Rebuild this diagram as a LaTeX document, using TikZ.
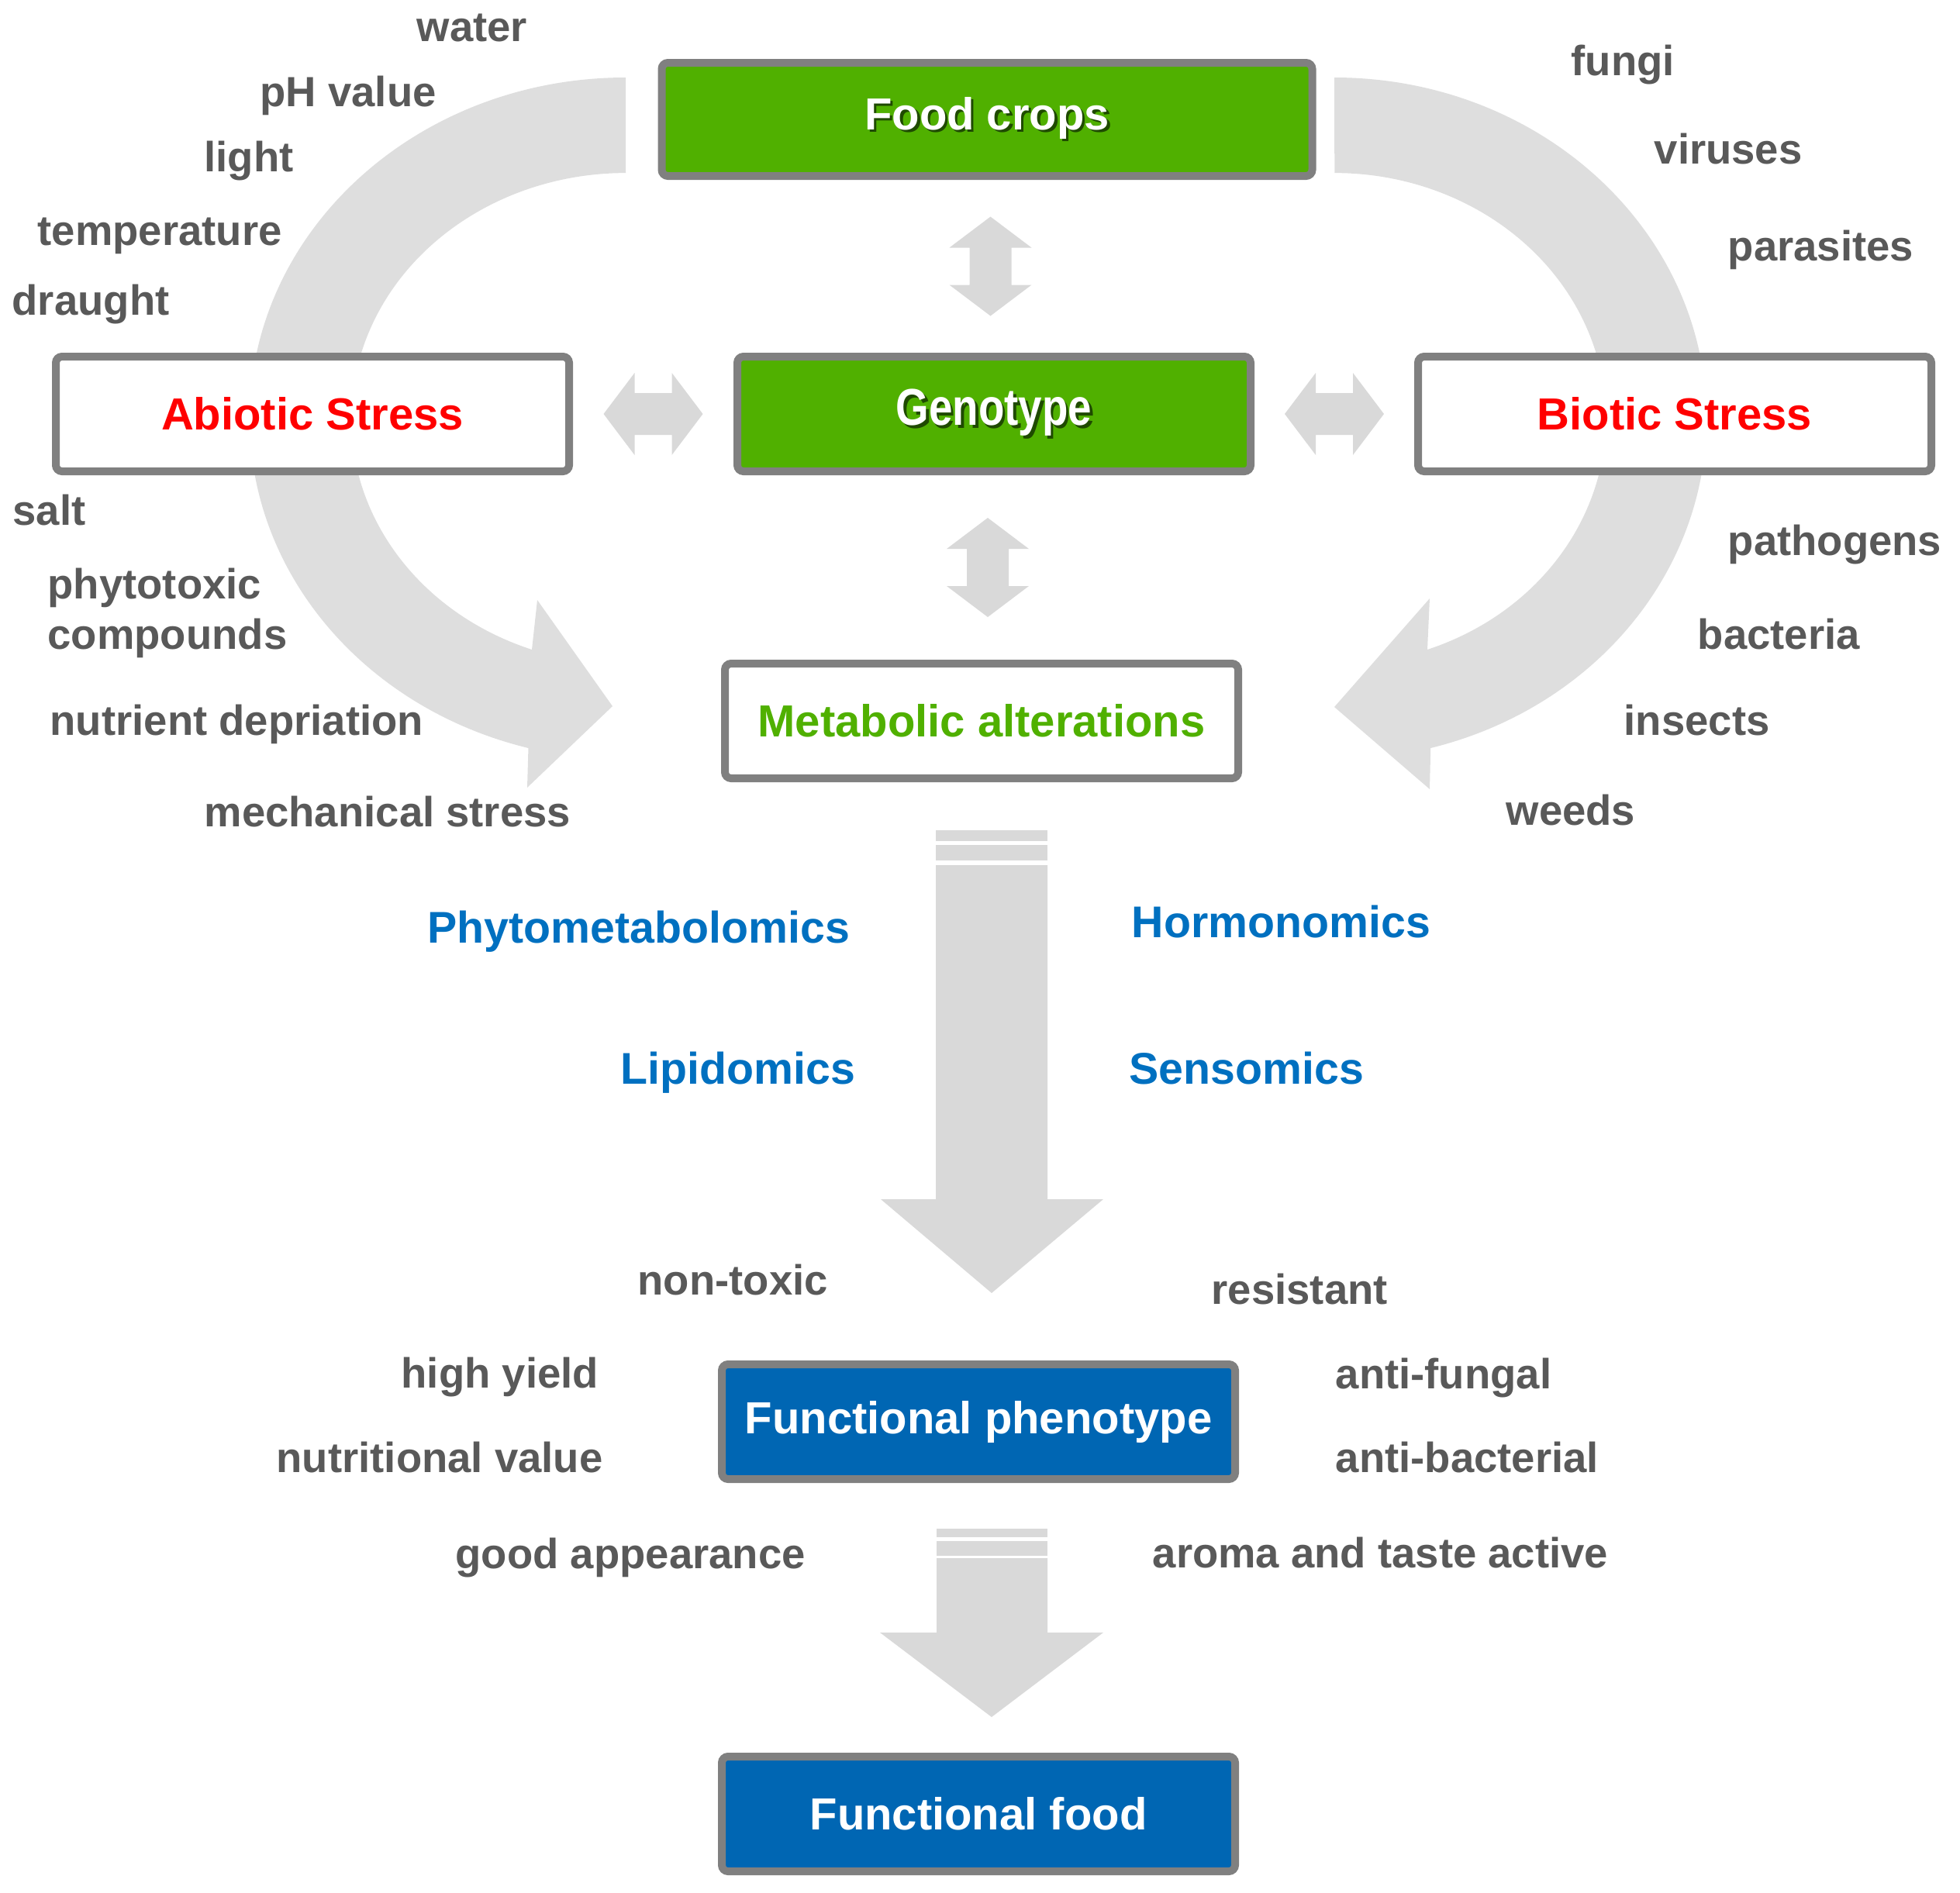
\documentclass[tikz,border=0pt]{standalone}
\usepackage{fontspec}
\setmainfont{Liberation Sans}
\newfontfamily\narrowfont[FakeStretch=0.82]{Liberation Sans}
\usepackage{tikz}
\usepackage{xcolor}
\usetikzlibrary{positioning,calc}

\definecolor{cropgreen}{HTML}{50B000}
\definecolor{shadowgreen}{HTML}{1F4A00}
\definecolor{foodblue}{HTML}{0066B3}
\definecolor{omicsblue}{HTML}{0070C0}
\definecolor{stressred}{HTML}{FF0000}
\definecolor{boxgray}{HTML}{808080}
\definecolor{labelgray}{HTML}{595959}
\definecolor{arrowgray}{HTML}{D9D9D9}
\definecolor{curvegray}{HTML}{DEDEDE}

\newcommand{\shadowed}[1]{\rlap{\kern0.035cm\raisebox{-0.035cm}{\color{shadowgreen}#1}}#1}

\tikzset{
  mainbox/.style={draw=boxgray, line width=0.1cm, rounded corners=0.08cm, fill=white,
    minimum width=6.62cm, minimum height=1.48cm, inner sep=0pt,
    font=\fontsize{16.5}{20}\selectfont\bfseries},
  factor/.style={anchor=base west, inner sep=0pt, text=labelgray,
    font=\fontsize{15.5}{18.7}\selectfont\bfseries},
  omics/.style={anchor=base west, inner sep=0pt, text=omicsblue,
    font=\fontsize{16.3}{20}\selectfont\bfseries},
  dblarrow/.pic={\fill[arrowgray] (0,0.64) -- (0.53,0.24) -- (0.27,0.24) -- (0.27,-0.24)
    -- (0.53,-0.24) -- (0,-0.64) -- (-0.53,-0.24) -- (-0.27,-0.24) -- (-0.27,0.24)
    -- (-0.53,0.24) -- cycle;}
}

\begin{document}
\begin{tikzpicture}
    \useasboundingbox (0,0) rectangle (25.28,-24.41);

    % Curved stress arrows (behind the boxes)
    \fill[curvegray] (8.07,-1.00) arc[start angle=90, end angle=255, x radius=4.85, y radius=4.40]
        -- (6.80,-10.16) -- (7.90,-9.11) -- (6.93,-7.74) -- (6.86,-8.38)
        arc[start angle=250, end angle=90, x radius=3.54, y radius=3.17] -- cycle;
    \fill[curvegray] (17.21,-1.00) arc[start angle=90, end angle=-75, x radius=4.80, y radius=4.40]
        -- (18.44,-10.18) -- (17.21,-9.12) -- (18.44,-7.72) -- (18.41,-8.38)
        arc[start angle=-70, end angle=90, x radius=3.50, y radius=3.17] -- cycle;

    % Genotype
    \node [mainbox, fill=cropgreen, text=white] (genotype) at (12.82,-5.34)
        {\narrowfont\fontsize{19}{22}\selectfont\shadowed{Genotype}};

    % Food crops
    \node [mainbox, fill=cropgreen, text=white, minimum width=8.39cm, minimum height=1.46cm,
        above=2.23cm of genotype, xshift=-0.09cm] (foodcrops) {\shadowed{Food crops}};

    % Stress boxes
    \node [mainbox, text=stressred, left=2.07cm of genotype] (abiotic) {Abiotic Stress};
    \node [mainbox, text=stressred, right=2.06cm of genotype] (biotic) {Biotic Stress};

    % Metabolic alterations
    \node [mainbox, text=cropgreen, below=2.38cm of genotype, xshift=-0.16cm] (metabolic) {Metabolic alterations};

    % Functional phenotype and food
    \node [mainbox, fill=foodblue, text=white, below=7.46cm of metabolic, xshift=-0.04cm] (phenotype) {Functional phenotype};
    \node [mainbox, fill=foodblue, text=white, below=3.48cm of phenotype] (food) {Functional food};

    % Double arrows between boxes
    \pic at ($(foodcrops.south)!0.5!(genotype.north)$) {dblarrow};
    \pic at ($(genotype.south)!0.5!(metabolic.north)$) {dblarrow};
    \pic[rotate=90] at ($(abiotic.east)!0.5!(genotype.west)$) {dblarrow};
    \pic[rotate=90] at ($(genotype.east)!0.5!(biotic.west)$) {dblarrow};

    % Big down arrow
    \fill[arrowgray] (12.07,-10.71) rectangle (13.51,-10.85);
    \fill[arrowgray] (12.07,-10.90) rectangle (13.51,-11.10);
    \fill[arrowgray] (12.07,-11.16) -- (13.51,-11.16) -- (13.51,-15.47) -- (14.23,-15.47)
        -- (12.79,-16.68) -- (11.36,-15.47) -- (12.07,-15.47) -- cycle;

    % Small down arrow
    \fill[arrowgray] (12.08,-19.72) rectangle (13.51,-19.83);
    \fill[arrowgray] (12.08,-19.88) rectangle (13.51,-20.07);
    \fill[arrowgray] (12.08,-20.10) -- (13.51,-20.10) -- (13.51,-21.06) -- (14.23,-21.06)
        -- (12.79,-22.15) -- (11.35,-21.06) -- (12.08,-21.06) -- cycle;

    % Abiotic factors
    \node [factor] (water) at (5.37,-0.53) {water};
    \node [factor] (phvalue) at (3.35,-1.37) {pH value};
    \node [factor] (light) at (2.63,-2.21) {light};
    \node [factor] (temperature) at (0.48,-3.16) {temperature};
    \node [factor] (draught) at (0.15,-4.06) {draught};
    \node [factor] (salt) at (0.16,-6.77) {salt};
    \node [factor, anchor=west, align=left] (phytotoxic) at (0.61,-7.91) {phytotoxic\\compounds};
    \node [factor] (nutrient) at (0.64,-9.48) {nutrient depriation};
    \node [factor] (mechanical) at (2.63,-10.66) {mechanical stress};

    % Biotic factors
    \node [factor] (fungi) at (20.26,-0.97) {fungi};
    \node [factor] (viruses) at (21.33,-2.11) {viruses};
    \node [factor] (parasites) at (22.28,-3.36) {parasites};
    \node [factor] (pathogens) at (22.28,-7.16) {pathogens};
    \node [factor] (bacteria) at (21.89,-8.37) {bacteria};
    \node [factor] (insects) at (20.94,-9.48) {insects};
    \node [factor] (weeds) at (19.42,-10.64) {weeds};

    % Omics
    \node [omics] (phytomet) at (5.51,-12.16) {Phytometabolomics};
    \node [omics] (hormon) at (14.59,-12.09) {Hormonomics};
    \node [omics] (lipid) at (8.00,-13.98) {Lipidomics};
    \node [omics] (senso) at (14.56,-13.98) {Sensomics};

    % Phenotype traits
    \node [factor] (nontoxic) at (8.22,-16.70) {non-toxic};
    \node [factor] (resistant) at (15.62,-16.82) {resistant};
    \node [factor] (highyield) at (5.17,-17.90) {high yield};
    \node [factor] (antifungal) at (17.22,-17.91) {anti-fungal};
    \node [factor] (nutritional) at (3.56,-18.99) {nutritional value};
    \node [factor] (antibacterial) at (17.22,-18.99) {anti-bacterial};
    \node [factor] (appearance) at (5.87,-20.23) {good appearance};
    \node [factor] (aroma) at (14.86,-20.22) {aroma and taste active};
\end{tikzpicture}
\end{document}
